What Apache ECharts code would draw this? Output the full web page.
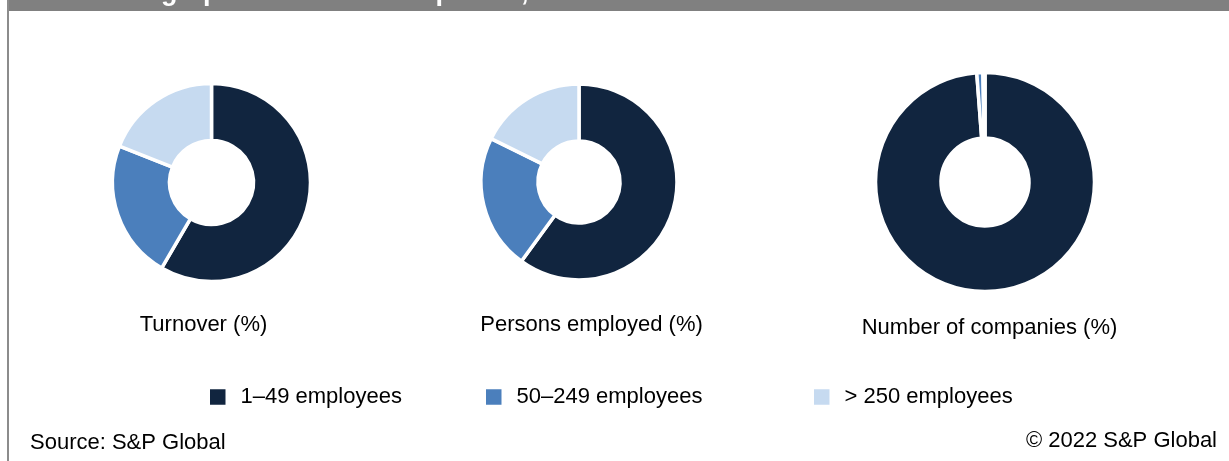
<!DOCTYPE html>
<html>
<head>
<meta charset="utf-8">
<title>Demographic of rental companies, 2019</title>
<script src="https://cdn.jsdelivr.net/npm/echarts@6/dist/echarts.min.js"></script>
<style>
  html, body { margin: 0; padding: 0; background: #fff; }
  #chart { width: 1229px; height: 461px; }
</style>
</head>
<body>
<div id="chart"></div>
<script>
// Company size bands shared by all three rings
const sizeBands = ['1–49 employees', '50–249 employees', '> 250 employees'];
const bandColors = ['#11253f', '#4b7fbc', '#c6daf0'];

// Share of each size band (%)
const turnoverShare = [58.4, 22.6, 19.0];
const employmentShare = [60.0, 22.3, 17.7];
const companyShare = [98.8, 0.9, 0.3];

const panelTitles = ['Turnover (%)', 'Persons employed (%)', 'Number of companies (%)'];
const chartTitle = 'Demographic of rental companies, 2019';
const chartNumber = '23';
const sourceNote = 'Source: S&P Global';
const copyrightNote = '© 2022 S&P Global';

const FONT = '"Liberation Sans", Arial, sans-serif';
const TEXT_SIZE = 22;

// Ring geometry for each panel: centre and [inner, outer] radius
const rings = [
  { values: turnoverShare, center: [211.5, 182.5], radius: [42, 99] },
  { values: employmentShare, center: [579, 182], radius: [41, 98] },
  { values: companyShare, center: [985, 182], radius: [44, 109.5] }
];
const panelTitlePos = [[203.5, 325], [591.5, 325], [989.5, 328]];
const legendLeft = [208, 484, 812];

const chart = echarts.init(document.getElementById('chart'), null, { renderer: 'canvas' });

const series = rings.map((r, i) => ({
  type: 'pie',
  name: panelTitles[i],
  center: r.center,
  radius: r.radius,
  startAngle: 90,
  clockwise: true,
  avoidLabelOverlap: false,
  label: { show: false },
  labelLine: { show: false },
  emphasis: { disabled: true },
  itemStyle: { borderColor: '#ffffff', borderWidth: 3.5 },
  data: sizeBands.map((name, k) => ({
    name: name,
    value: r.values[k],
    itemStyle: { color: bandColors[k] }
  }))
}));

const legends = sizeBands.map((name, k) => ({
  data: [name],
  left: legendLeft[k],
  top: 386,
  padding: 0,
  orient: 'horizontal',
  icon: 'rect',
  itemWidth: 17.5,
  itemHeight: 17.5,
  selectedMode: false,
  textStyle: {
    fontFamily: FONT,
    fontSize: TEXT_SIZE,
    color: '#000',
    lineHeight: 22,
    padding: [0, 0, 0, 9]
  }
}));

const graphics = [
  // frame: header band and left rule
  { type: 'rect', shape: { x: 8, y: 0, width: 1221, height: 11 }, style: { fill: '#808080' }, silent: true },
  { type: 'rect', shape: { x: 7, y: 0, width: 2, height: 461 }, style: { fill: '#8c8c8c' }, silent: true },
  {
    type: 'text', x: 18, y: 6, silent: true,
    style: { text: chartNumber, fill: '#ffffff', font: 'bold 27px ' + FONT, verticalAlign: 'bottom' }
  },
  {
    type: 'text', x: 86, y: 6, silent: true,
    style: { text: chartTitle, fill: '#ffffff', font: 'bold 27px ' + FONT, verticalAlign: 'bottom' }
  },
  // captions under each ring
  ...panelTitles.map((t, i) => ({
    type: 'text', x: panelTitlePos[i][0], y: panelTitlePos[i][1], silent: true,
    style: { text: t, fill: '#000', font: TEXT_SIZE + 'px ' + FONT, align: 'center', verticalAlign: 'middle' }
  })),
  {
    type: 'text', x: 30, y: 443, silent: true,
    style: { text: sourceNote, fill: '#000', font: TEXT_SIZE + 'px ' + FONT, align: 'left', verticalAlign: 'middle' }
  },
  {
    type: 'text', x: 1217, y: 441, silent: true,
    style: { text: copyrightNote, fill: '#000', font: TEXT_SIZE + 'px ' + FONT, align: 'right', verticalAlign: 'middle' }
  }
];

chart.setOption({
  animation: false,
  backgroundColor: '#ffffff',
  tooltip: { show: false },
  legend: legends,
  series: series,
  graphic: graphics
});
</script>
</body>
</html>
